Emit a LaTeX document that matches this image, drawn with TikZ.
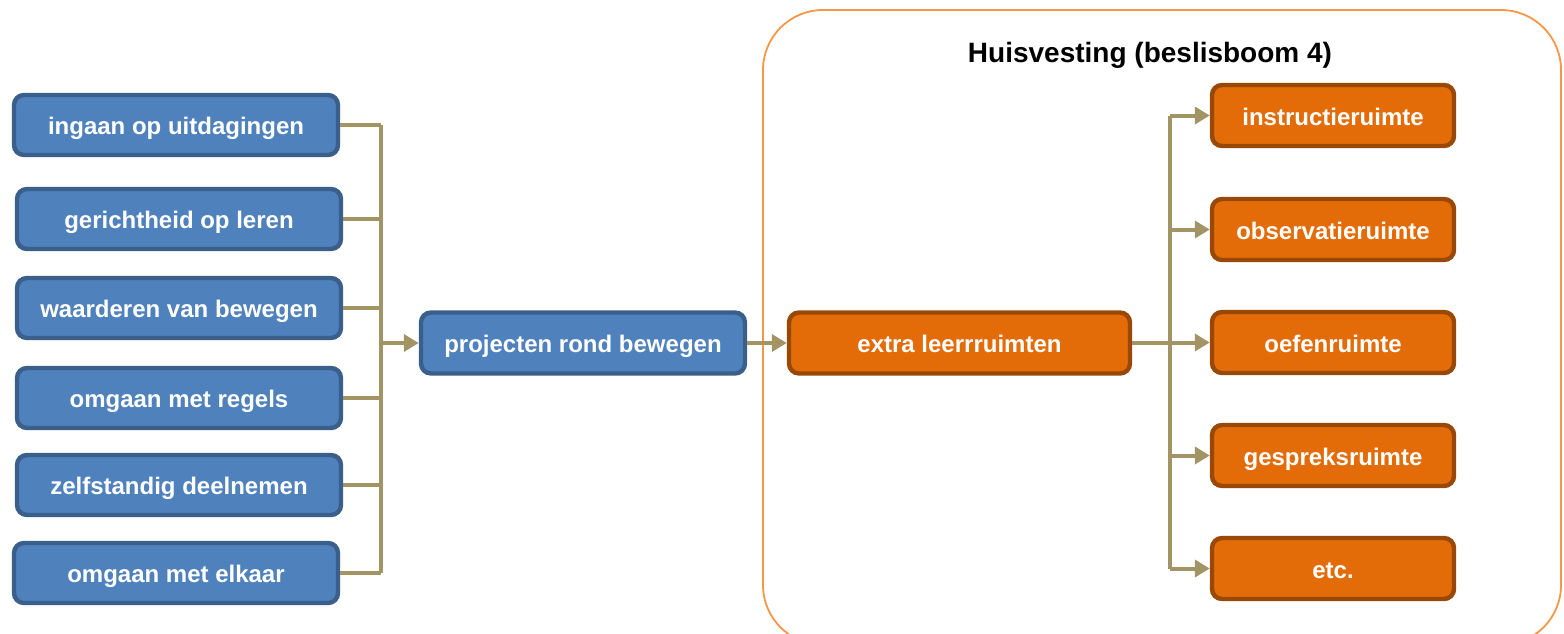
\documentclass[tikz,border=0pt]{standalone}
\usepackage{fontspec}
\setmainfont{Liberation Sans}
\usepackage{tikz}
\usetikzlibrary{arrows.meta, positioning, calc}

\definecolor{boxblue}{HTML}{4F81BD}
\definecolor{lineblue}{HTML}{3A5F8B}
\definecolor{boxorange}{HTML}{E36C09}
\definecolor{lineorange}{HTML}{984807}
\definecolor{frameorange}{HTML}{F79646}
\definecolor{tan}{HTML}{A39466}

\begin{document}
\begin{tikzpicture}[x=0.5pt, y=-0.5pt,
    base/.style={rounded corners=5pt, line width=2.2pt, minimum height=30pt,
        font=\fontsize{12}{14}\selectfont\bfseries, text=white, inner sep=0pt,
        text height=9.5pt, text depth=0pt},
    goal/.style={base, fill=boxblue, draw=lineblue, minimum width=162pt},
    proj/.style={base, fill=boxblue, draw=lineblue, minimum width=162pt, minimum height=30.5pt},
    room/.style={base, fill=boxorange, draw=lineorange, minimum height=30.5pt},
    link/.style={draw=tan, line width=2pt},
    arrow/.style={link, -{Triangle[length=7.5pt, width=8.5pt]}}]
    \useasboundingbox (0,0) rectangle (1564,633);

    % Frame for the housing part
    \draw[frameorange, line width=0.9pt, rounded corners=30pt] (763,10) rectangle (1561,645);
    \node[font=\fontsize{14}{16}\selectfont\bfseries] (title) at (1150,55) {Huisvesting (beslisboom 4)};

    % Goals on the left
    \node[goal] (g1) at (176,125) {ingaan op uitdagingen};
    \node[goal] (g2) at (179,219) {gerichtheid op leren};
    \node[goal] (g3) at (179,308) {waarderen van bewegen};
    \node[goal] (g4) at (179,398) {omgaan met regels};
    \node[goal] (g5) at (179,485) {zelfstandig deelnemen};
    \node[goal] (g6) at (176,573) {omgaan met elkaar};

    % Middle boxes
    \node[proj] (proj) at (583,343) {projecten rond bewegen};
    \node[room, minimum width=170.5pt] (extra) at (959.5,343) {extra leerrruimten};

    % Rooms on the right
    \node[room, minimum width=121pt] (r1) at (1333,115.5) {instructieruimte};
    \node[room, minimum width=121pt] (r2) at (1333,229.5) {observatieruimte};
    \node[room, minimum width=121pt] (r3) at (1333,342.5) {oefenruimte};
    \node[room, minimum width=121pt] (r4) at (1333,455.5) {gespreksruimte};
    \node[room, minimum width=121pt] (r5) at (1333,568.5) {etc.};

    % Bus lines
    \coordinate (lbus) at (381,343);
    \coordinate (rbus) at (1170,343);

    \foreach \g in {g1,g2,g3,g4,g5,g6}
        \draw[link] (\g.east) -- (\g.east -| lbus);
    \draw[link] (g1.east -| lbus) -- (g6.east -| lbus);
    \draw[arrow] (lbus |- proj.west) -- (proj.west);
    \draw[arrow] (proj.east) -- (extra.west);

    \draw[link] (extra.east) -- (rbus);
    \draw[link] (r1.west -| rbus) -- (r5.west -| rbus);
    \foreach \r in {r1,r2,r3,r4,r5}
        \draw[arrow] (\r.west -| rbus) -- (\r.west);
\end{tikzpicture}
\end{document}
